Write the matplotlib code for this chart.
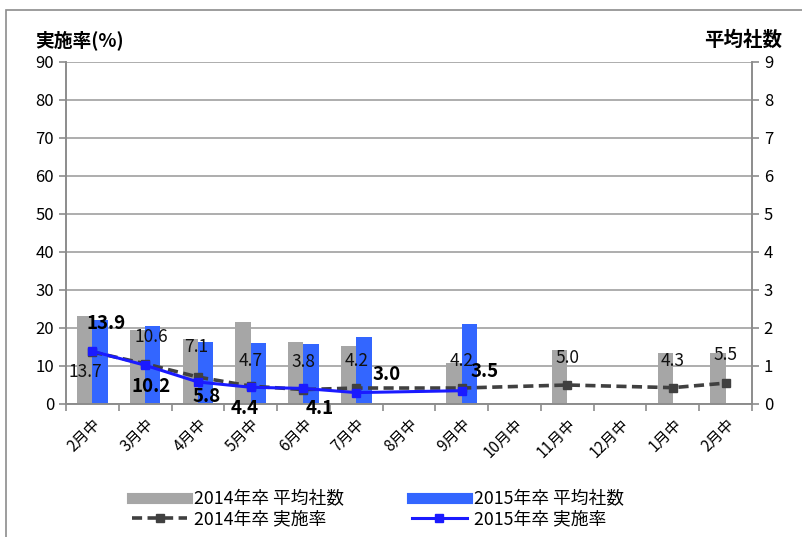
import matplotlib
matplotlib.use("Agg")
import matplotlib.pyplot as plt
from matplotlib.lines import Line2D
from matplotlib.patches import Rectangle
import numpy as np

plt.rcParams['font.family'] = ['Noto Sans CJK JP', 'DejaVu Sans']

months = ["2月中", "3月中", "4月中", "5月中", "6月中", "7月中", "8月中",
          "9月中", "10月中", "11月中", "12月中", "1月中", "2月中"]
nan = np.nan
# 平均社数 (right axis)
avg_2014 = [2.32, 1.95, 1.71, 2.16, 1.62, 1.53, nan, 1.09, nan, 1.42, nan, 1.33, 1.33]
avg_2015 = [2.21, 2.06, 1.62, 1.61, 1.57, 1.76, nan, 2.10, nan, nan, nan, nan, nan]
# 実施率 (left axis, %)
rate_2014 = [13.7, 10.6, 7.1, 4.7, 3.8, 4.2, nan, 4.2, nan, 5.0, nan, 4.3, 5.5]
rate_2015 = [13.9, 10.2, 5.8, 4.4, 4.1, 3.0, nan, 3.5, nan, nan, nan, nan, nan]

# label offsets in pixels (dx, dy)
off_2014 = [(-7, -20), (6, 27), (-2, 30), (0, 25), (0, 28), (0, 27), None, (0, 27), None, (0, 27), None, (0, 27), (0, 28)]
off_2015 = [(14, 28), (6, -21), (9, -15), (-6, -21), (16, -20), (30, 18), None, (23, 19)]

gray = "#a6a6a6"
blue = "#3366ff"
line_gray = "#404040"
line_blue = "#1a1aff"

fig = plt.figure(figsize=(8.03, 5.37), dpi=100)
fig.patches.append(Rectangle((6 / 803, -0.1), 1.2, 1.0 - 10 / 537 + 0.1, transform=fig.transFigure,
                             fill=False, edgecolor="#8c8c8c", linewidth=1.2))
ax = fig.add_axes([66 / 803, 1 - 404 / 537, (752 - 66) / 803, (404 - 62) / 537])
ax2 = ax.twinx()

x = np.arange(len(months))
w = 0.29
ax2.bar(x - w / 2, avg_2014, w, color=gray, zorder=2)
ax2.bar(x + w / 2, avg_2015, w, color=blue, zorder=2)
ax2.set_ylim(0, 9)
ax2.set_yticks(range(0, 10))
ax2.yaxis.grid(True, color="#a0a0a0", linewidth=1.2, zorder=0)
ax2.set_axisbelow(True)

ax.set_zorder(ax2.get_zorder() + 1)
ax.patch.set_visible(False)

r14 = np.array(rate_2014)
r15 = np.array(rate_2015)
m14 = ~np.isnan(r14)
m15 = ~np.isnan(r15)
ax.plot(x[m14], r14[m14], color=line_gray, linewidth=2.6, dashes=(2.8, 1.5),
        marker="s", markersize=5.5, zorder=3)
ax.plot(x[m15], r15[m15], color=line_blue, linewidth=2.2,
        marker="s", markersize=6, zorder=4)

for i, v in enumerate(rate_2014):
    if off_2014[i] is None or np.isnan(v):
        continue
    ax.annotate(f"{v:.1f}", (x[i], v), xytext=off_2014[i], textcoords="offset pixels",
                ha="center", va="center", fontsize=12.5, color="#111111", zorder=6)
for i, v in enumerate(rate_2015):
    if i >= len(off_2015) or off_2015[i] is None or np.isnan(v):
        continue
    ax.annotate(f"{v:.1f}", (x[i], v), xytext=off_2015[i], textcoords="offset pixels",
                ha="center", va="center", fontsize=13.5, fontweight="bold", color="black", zorder=6)

ax.set_ylim(0, 90)
ax.set_yticks(range(0, 91, 10))
ax.set_xlim(-0.5, len(months) - 0.5)
ax.set_xticks(x)
ax.set_xticklabels(months, rotation=45, ha="right", va="top", rotation_mode="anchor", fontsize=11)
ax.set_xticks(np.arange(-0.5, len(months)), minor=True)
ax.tick_params(axis="x", which="major", length=0, pad=8)
ax.tick_params(axis="x", which="minor", length=5, color="#8c8c8c", width=1.2)
ax.tick_params(axis="y", length=5, color="#8c8c8c", width=1.2, labelsize=12)
ax2.tick_params(axis="y", length=5, color="#8c8c8c", width=1.2, labelsize=12)

for a in (ax, ax2):
    for s in a.spines.values():
        s.set_color("#8c8c8c")
        s.set_linewidth(1.2)
    a.spines["top"].set_visible(False)

fig.text(35 / 803, 1 - 40 / 537, "実施率(%)", fontsize=13.5, fontweight="bold", va="center", ha="left")
fig.text(782 / 803, 1 - 40 / 537, "平均社数", fontsize=14, fontweight="bold", va="center", ha="right")

handles = [
    Line2D([], [], color=gray, linewidth=8),
    Line2D([], [], color=line_gray, linewidth=2.6, dashes=(2.8, 1.5), marker="s", markersize=5.5),
    Line2D([], [], color=blue, linewidth=8),
    Line2D([], [], color=line_blue, linewidth=2.2, marker="s", markersize=6),
]
labels = ["2014年卒 平均社数", "2014年卒 実施率", "2015年卒 平均社数", "2015年卒 実施率"]
fig.legend(handles, labels, loc="center", bbox_to_anchor=(378 / 803, 1 - 509 / 537), ncol=2,
           frameon=False, fontsize=12.8, handlelength=3.1, columnspacing=3.8,
           labelspacing=0.1, handletextpad=0.4)

fig.savefig("out.png", dpi=100)
